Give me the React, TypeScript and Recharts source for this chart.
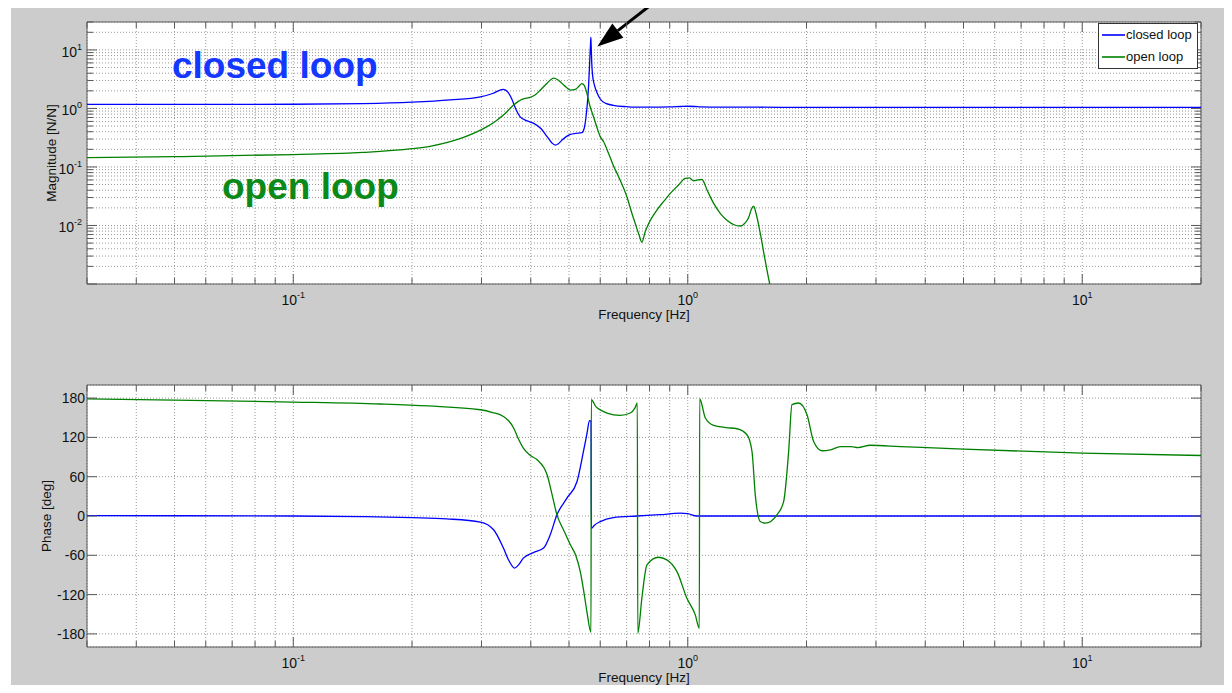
import React from 'react';
import { LineChart, Line, XAxis, YAxis, CartesianGrid, ReferenceArea, ReferenceLine, Legend } from 'recharts';

// ---------- data ----------
const closedMagFreq = [0.03, 0.05, 0.1, 0.15, 0.2, 0.25, 0.298, 0.32, 0.341, 0.35, 0.358, 0.366, 0.376, 0.39, 0.406, 0.425, 0.44, 0.452, 0.461, 0.47, 0.48, 0.492, 0.504, 0.52, 0.539, 0.546, 0.552, 0.557, 0.561, 0.564, 0.567, 0.568, 0.569, 0.571, 0.574, 0.58, 0.59, 0.6, 0.62, 0.648, 0.7, 0.729, 0.8, 0.9, 0.96, 1.0, 1.04, 1.08, 1.2, 1.5, 2, 5, 10, 20];
const closedMag = [1.17, 1.17, 1.18, 1.21, 1.28, 1.4, 1.58, 1.8, 2.12, 1.9, 1.45, 1.0, 0.72, 0.62, 0.56, 0.45, 0.33, 0.26, 0.237, 0.25, 0.288, 0.33, 0.36, 0.375, 0.385, 0.45, 0.7, 1.3, 2.7, 6, 13, 16.4, 12, 6, 3.6, 2.5, 1.8, 1.45, 1.22, 1.13, 1.07, 1.05, 1.05, 1.06, 1.08, 1.09, 1.08, 1.06, 1.05, 1.05, 1.04, 1.04, 1.04, 1.04];

const openMagFreq = [0.03, 0.05, 0.1, 0.15, 0.2, 0.222, 0.25, 0.27, 0.29, 0.31, 0.325, 0.341, 0.352, 0.362, 0.372, 0.38, 0.39, 0.399, 0.41, 0.423, 0.44, 0.457, 0.468, 0.48, 0.492, 0.504, 0.519, 0.53, 0.539, 0.547, 0.555, 0.565, 0.577, 0.59, 0.6, 0.612, 0.63, 0.648, 0.67, 0.701, 0.72, 0.736, 0.752, 0.765, 0.78, 0.796, 0.835, 0.87, 0.903, 0.95, 0.985, 1.01, 1.034, 1.06, 1.086, 1.12, 1.163, 1.21, 1.257, 1.31, 1.359, 1.4, 1.426, 1.45, 1.469, 1.49, 1.527, 1.57, 1.613, 1.7];
const openMag = [0.144, 0.15, 0.163, 0.177, 0.205, 0.225, 0.27, 0.32, 0.39, 0.49, 0.6, 0.77, 0.95, 1.14, 1.32, 1.43, 1.5, 1.55, 1.7, 2.06, 2.7, 3.3, 3.1, 2.68, 2.3, 2.06, 2.12, 2.4, 2.65, 2.45, 1.81, 1.1, 0.72, 0.45, 0.33, 0.27, 0.17, 0.105, 0.065, 0.031, 0.017, 0.0108, 0.007, 0.0052, 0.0078, 0.0108, 0.0183, 0.026, 0.0353, 0.05, 0.064, 0.065, 0.058, 0.06, 0.061, 0.04, 0.0238, 0.016, 0.0123, 0.0103, 0.0098, 0.0112, 0.0135, 0.019, 0.0214, 0.016, 0.0073, 0.0026, 0.00102, 0.0004];

const closedPhaseFreq = [0.03, 0.1, 0.15, 0.2, 0.245, 0.298, 0.322, 0.341, 0.352, 0.364, 0.372, 0.383, 0.406, 0.431, 0.448, 0.466, 0.494, 0.524, 0.544, 0.555, 0.5636, 0.5685, 0.5695, 0.58, 0.6, 0.648, 0.743, 0.85, 0.957, 1.0, 1.055, 1.2, 2, 5, 20];
const closedPhase = [0.5, 0, -1, -2.5, -4.4, -9.4, -21, -49, -68, -79.7, -75, -64.4, -55.9, -49, -28.8, 1.8, 27.3, 52.7, 98.5, 125, 145.4, 145, -19, -14, -8.5, -2.4, 0, 2, 4.3, 3.5, 0, 0, 0, 0, 0];

const openPhaseFreq = [0.03, 0.05, 0.1, 0.166, 0.22, 0.298, 0.32, 0.341, 0.352, 0.362, 0.372, 0.383, 0.4, 0.415, 0.44, 0.452, 0.466, 0.485, 0.504, 0.52, 0.534, 0.545, 0.555, 0.5685, 0.5695, 0.585, 0.6, 0.624, 0.674, 0.715, 0.735, 0.745, 0.747, 0.765, 0.788, 0.843, 0.885, 0.939, 0.995, 1.045, 1.07, 1.072, 1.108, 1.163, 1.25, 1.333, 1.413, 1.455, 1.483, 1.527, 1.573, 1.683, 1.75, 1.802, 1.837, 1.91, 2.006, 2.085, 2.189, 2.3, 2.436, 2.6, 2.7, 2.9, 3.46, 5, 10, 20];
const openPhase = [178.7, 177, 174, 171, 168, 162.2, 158, 152, 145, 134.3, 118, 103.7, 92, 85.8, 63, 35, 1.8, -22, -44, -60, -84.9, -115, -146, -177.5, 177.5, 167, 162, 157.2, 153.5, 157.2, 165, 172.5, -179, -125.6, -74.7, -63, -67, -84.9, -125.6, -151, -171.4, 179, 149.6, 138.3, 135, 133.2, 124, 98.5, 32.3, -8.5, -11, 1.8, 22, 98.5, 170, 172.5, 154.6, 113.8, 99.6, 101, 106, 106, 104.5, 108, 106, 102, 96, 92.4];

const freqTicks = [0.03, 0.04, 0.05, 0.06, 0.07, 0.08, 0.09, 0.1, 0.2, 0.3, 0.4, 0.5, 0.6, 0.7, 0.8, 0.9, 1, 2, 3, 4, 5, 6, 7, 8, 9, 10, 20];
const magTicks = [0.001, 0.002, 0.003, 0.004, 0.005, 0.006, 0.007, 0.008, 0.009, 0.01, 0.02, 0.03, 0.04, 0.05, 0.06, 0.07, 0.08, 0.09, 0.1, 0.2, 0.3, 0.4, 0.5, 0.6, 0.7, 0.8, 0.9, 1, 2, 3, 4, 5, 6, 7, 8, 9, 10, 20, 30];
const phaseTicks = [-180, -120, -60, 0, 60, 120, 180];

const seriesNames = ['closed loop', 'open loop'];
const annotationTexts = ['closed loop', 'open loop'];
const axisTitles = { freq: 'Frequency [Hz]', mag: 'Magnitude [N/N]', phase: 'Phase [deg]' };

const zip = (fs: number[], vs: number[]) => fs.map((f, i) => ({ f, v: vs[i] }));
const closedMagData = zip(closedMagFreq, closedMag);
const openMagData = zip(openMagFreq, openMag);
const closedPhaseData = zip(closedPhaseFreq, closedPhase);
const openPhaseData = zip(openPhaseFreq, openPhase);

// ---------- styles / layout ----------
const FONT = '"Liberation Sans", Arial, Helvetica, sans-serif';
const BLUE = '#0000ff';
const GREEN = '#008000';
const SERIES_COLORS = [BLUE, GREEN];
const AXIS = '#5a5a5a';
const GRID = '#9a9a9a';
const BG = '#cccccc';
const W = 1232;
const TOP_H = 340;
const BOT_H = 353;
const PLOT_L = 87;
const PLOT_R = 1201;
const TOP_M = { top: 22, right: W - PLOT_R, bottom: 26, left: PLOT_L - 60 };
const BOT_M = { top: 45, right: W - PLOT_R, bottom: 16, left: PLOT_L - 60 };
const TOP_PT = TOP_M.top, TOP_PB = TOP_H - TOP_M.bottom - 30;
const BOT_PT = BOT_M.top, BOT_PB = BOT_H - BOT_M.bottom - 30;
const MAJOR = 10;
const MINOR = 6;
const TICK_FS = 14;
const EXP_FS = 9;

const isDecade = (v: number) => Math.abs(Math.log10(v) - Math.round(Math.log10(v))) < 1e-9;

const makeXTick = (pt: number, pb: number) => (props: any) => {
  const { x, payload } = props;
  const v = payload.value;
  const major = isDecade(v);
  const len = major ? MAJOR : MINOR;
  return (
    <g>
      <line x1={x} x2={x} y1={pb} y2={pb - len} stroke={AXIS} strokeWidth={1} />
      <line x1={x} x2={x} y1={pt} y2={pt + len} stroke={AXIS} strokeWidth={1} />
      {major && (
        <text x={x} y={pb + 21} textAnchor="middle" fontFamily={FONT} fontSize={TICK_FS} fill="#111">
          10<tspan dy={-7} fontSize={EXP_FS}>{Math.round(Math.log10(v))}</tspan>
        </text>
      )}
    </g>
  );
};

const MagYTick = (props: any) => {
  const { y, payload } = props;
  const v = payload.value;
  const major = isDecade(v);
  const len = major ? MAJOR : MINOR;
  const e = Math.round(Math.log10(v));
  return (
    <g>
      <line x1={PLOT_L} x2={PLOT_L + len} y1={y} y2={y} stroke={AXIS} />
      <line x1={PLOT_R} x2={PLOT_R - len} y1={y} y2={y} stroke={AXIS} />
      {major && e > -3 && (
        <text x={PLOT_L - 5} y={y + 7} textAnchor="end" fontFamily={FONT} fontSize={TICK_FS} fill="#111">
          10<tspan dy={-7} fontSize={EXP_FS}>{e}</tspan>
        </text>
      )}
    </g>
  );
};

const PhaseYTick = (props: any) => {
  const { y, payload } = props;
  return (
    <g>
      <line x1={PLOT_L} x2={PLOT_L + MAJOR} y1={y} y2={y} stroke={AXIS} />
      <line x1={PLOT_R} x2={PLOT_R - MAJOR} y1={y} y2={y} stroke={AXIS} />
      <text x={PLOT_L - 2} y={y + 5} textAnchor="end" fontFamily={FONT} fontSize={TICK_FS} fill="#111">
        {payload.value}
      </text>
    </g>
  );
};

const ArrowShape = (p: any) => {
  const { x1, y1, x2, y2 } = p;
  const dx = x2 - x1, dy = y2 - y1;
  const L = Math.sqrt(dx * dx + dy * dy) || 1;
  const ux = dx / L, uy = dy / L;
  const hl = 26, hw = 9;
  const bx = x2 - ux * hl, by = y2 - uy * hl;
  const px = -uy, py = ux;
  return (
    <g>
      <line x1={x1} y1={y1} x2={bx} y2={by} stroke="#000" strokeWidth={3} />
      <polygon points={`${x2},${y2} ${bx + px * hw},${by + py * hw} ${bx - px * hw},${by - py * hw}`} fill="#000" />
    </g>
  );
};

const LegendBox = (props: any) => {
  const payload = props.payload || [];
  return (
    <div style={{ width: 100, height: 46, boxSizing: 'border-box', border: '1px solid #333', background: '#fff', fontFamily: FONT }}>
      {payload.map((p: any, i: number) => (
        <div key={i} style={{ display: 'flex', alignItems: 'center', height: 22 }}>
          <div style={{ width: 23, height: 2, background: SERIES_COLORS[i] || p.color, opacity: 0.8, marginLeft: 3, flex: 'none' }} />
          <span style={{ fontSize: 13, marginLeft: 1, color: '#111', lineHeight: '22px' }}>{p.value}</span>
        </div>
      ))}
    </div>
  );
};

export default function App() {
  return (
    <div style={{ position: 'relative', width: W, height: 693, margin: -8, background: '#fff', overflow: 'hidden' }}>
      <div style={{ position: 'absolute', left: 11, top: 6, right: 0, bottom: 0, background: BG }} />
      <div style={{ position: 'absolute', left: 0, top: 0 }}>
        <LineChart width={W} height={TOP_H} margin={TOP_M}>
          <CartesianGrid fill="#fff" fillOpacity={1} stroke={GRID} strokeDasharray="1 2" />
          <XAxis dataKey="f" type="number" scale="log" domain={[0.03, 20]} allowDataOverflow ticks={freqTicks} interval={0}
            tick={makeXTick(TOP_PT, TOP_PB)} tickLine={false} axisLine={false} height={30} />
          <YAxis type="number" scale="log" domain={[0.001, 30]} allowDataOverflow ticks={magTicks} interval={0}
            tick={MagYTick} tickLine={false} axisLine={false} width={60} />
          <ReferenceArea x1={0.03} x2={20} y1={0.001} y2={30} fill="none" stroke={AXIS} strokeWidth={1} ifOverflow="visible" />
          <Line data={closedMagData} dataKey="v" name={seriesNames[0]} stroke={BLUE} strokeWidth={1.3} dot={false} type="monotoneX" isAnimationActive={false} />
          <Line data={openMagData} dataKey="v" name={seriesNames[1]} stroke={GREEN} strokeWidth={1.3} dot={false} type="monotoneX" isAnimationActive={false} />
          <ReferenceLine segment={[{ x: 0.855, y: 80 }, { x: 0.59, y: 11.4 }]} ifOverflow="visible" shape={ArrowShape} />
          <Legend content={LegendBox} layout="horizontal" verticalAlign="middle" align="center"
            wrapperStyle={{ position: 'absolute', left: 1098, top: 23, width: 100, height: 46 }} />
        </LineChart>
      </div>
      <div style={{ position: 'absolute', left: 0, top: TOP_H }}>
        <LineChart width={W} height={BOT_H} margin={BOT_M}>
          <CartesianGrid fill="#fff" fillOpacity={1} stroke={GRID} strokeDasharray="1 2" />
          <XAxis dataKey="f" type="number" scale="log" domain={[0.03, 20]} allowDataOverflow ticks={freqTicks} interval={0}
            tick={makeXTick(BOT_PT, BOT_PB)} tickLine={false} axisLine={false} height={30} />
          <YAxis type="number" domain={[-200, 200]} allowDataOverflow ticks={phaseTicks} interval={0}
            tick={PhaseYTick} tickLine={false} axisLine={false} width={60} />
          <ReferenceArea x1={0.03} x2={20} y1={-200} y2={200} fill="none" stroke={AXIS} strokeWidth={1} ifOverflow="visible" />
          <Line data={closedPhaseData} dataKey="v" name={seriesNames[0]} stroke={BLUE} strokeWidth={1.3} dot={false} type="monotoneX" isAnimationActive={false} />
          <Line data={openPhaseData} dataKey="v" name={seriesNames[1]} stroke={GREEN} strokeWidth={1.3} dot={false} type="monotoneX" isAnimationActive={false} />
        </LineChart>
      </div>
      <svg width={W} height={693} style={{ position: 'absolute', left: 0, top: 0, pointerEvents: 'none' }}>
        <text x={172} y={78} fontFamily={FONT} fontWeight="bold" fontSize={37} fill="#1438ff">{annotationTexts[0]}</text>
        <text x={222} y={199} fontFamily={FONT} fontWeight="bold" fontSize={37} fill="#0b8a1a">{annotationTexts[1]}</text>
        <text x={(PLOT_L + PLOT_R) / 2} y={TOP_PB + 35} textAnchor="middle" fontFamily={FONT} fontSize={13.5} fill="#111">{axisTitles.freq}</text>
        <text x={(PLOT_L + PLOT_R) / 2} y={TOP_H + BOT_PB + 35} textAnchor="middle" fontFamily={FONT} fontSize={13.5} fill="#111">{axisTitles.freq}</text>
        <text transform={`translate(55.5, ${(TOP_PT + TOP_PB) / 2}) rotate(-90)`} textAnchor="middle" fontFamily={FONT} fontSize={13.5} fill="#111">{axisTitles.mag}</text>
        <text transform={`translate(51, ${TOP_H + (BOT_PT + BOT_PB) / 2}) rotate(-90)`} textAnchor="middle" fontFamily={FONT} fontSize={13.5} fill="#111">{axisTitles.phase}</text>
      </svg>
    </div>
  );
}
